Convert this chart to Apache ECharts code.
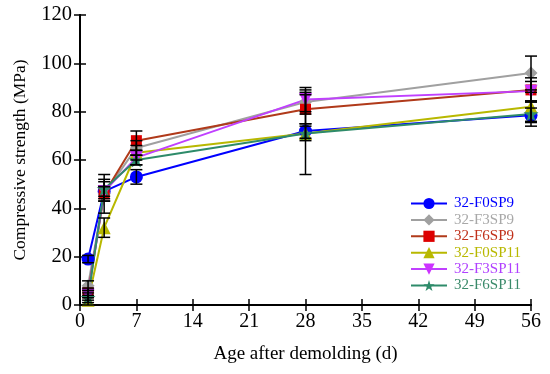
<!DOCTYPE html>
<html><head><meta charset="utf-8">
<script src="https://cdn.jsdelivr.net/npm/echarts@6/dist/echarts.min.js"></script>
<style>html,body{margin:0;padding:0;background:#fff}#c{width:550px;height:374px}</style>
</head><body><div id="c"></div>
<script>
var ages = [1, 3, 7, 28, 56];
var names = ['32-F0SP9','32-F3SP9','32-F6SP9','32-F0SP11','32-F3SP11','32-F6SP11'];
var F0SP9  = [19, 47, 53, 72, 78.5];
var F3SP9  = [8, 46, 65, 84, 96];
var F6SP9  = [5, 46, 68, 81, 89];
var F0SP11 = [2, 32, 63, 71, 82];
var F3SP11 = [4, 47, 61, 85, 88.5];
var F6SP11 = [3, 48, 60, 71, 79];
var errF0SP9  = [1.5, 2, 3, 3, 3];
var errF3SP9  = [2, 3, 3, 5, 7];
var errF6SP9  = [2, 8, 4, 6, 5];
var errF0SP11 = [2, 4, 3, 17, 6];
var errF3SP11 = [2, 4, 3, 5, 4];
var errF6SP11 = [2, 4, 2, 3, 5];
var xTicks = [0, 7, 14, 21, 28, 35, 42, 49, 56];
var yTicks = [0, 20, 40, 60, 80, 100, 120];

var values = [F0SP9, F3SP9, F6SP9, F0SP11, F3SP11, F6SP11];
var errs = [errF0SP9, errF3SP9, errF6SP9, errF0SP11, errF3SP11, errF6SP11];
var lineColors = ['#0000ff', '#a0a0a0', '#b03a1a', '#b8b800', '#c040ff', '#2e8b6a'];
var symColors  = ['#0000ff', '#a0a0a0', '#dd0000', '#b8b800', '#cc33ff', '#2e8b6a'];
var textColors = ['#0000ff', '#a8a8a8', '#c0301a', '#b8b800', '#b040ff', '#3a8a6a'];
var star = 'path://M0,-1 L0.2245,-0.309 L0.951,-0.309 L0.363,0.118 L0.588,0.809 L0,0.382 L-0.588,0.809 L-0.363,0.118 L-0.951,-0.309 L-0.2245,-0.309 Z';
var symbols = ['circle', 'diamond', 'rect', 'triangle', 'triangle', star];
var symSizes = [13, 13, 11, 13, 13, 15];
var symRot = [0, 0, 0, 0, 180, 0];

var font = '"Liberation Serif","Times New Roman",serif';
var series = [];
for (var i = 0; i < names.length; i++) {
  series.push({
    name: names[i], type: 'line',
    data: ages.map(function (a, k) { return [a, values[i][k]]; }),
    symbol: symbols[i], symbolSize: symSizes[i], symbolRotate: symRot[i],
    lineStyle: { color: lineColors[i], width: 2 },
    itemStyle: { color: symColors[i] },
    z: 3
  });
}
for (var j = 0; j < names.length; j++) {
  (function (j) {
    series.push({
      type: 'custom', name: names[j] + '-err', silent: true, z: 5,
      data: ages.map(function (a, k) { return [a, values[j][k] - errs[j][k], values[j][k] + errs[j][k]]; }),
      renderItem: function (params, api) {
        var x = api.value(0);
        var lo = api.coord([x, api.value(1)]);
        var hi = api.coord([x, api.value(2)]);
        var w = 6;
        var st = { stroke: '#000', lineWidth: 1.5 };
        return { type: 'group', children: [
          { type: 'line', shape: { x1: lo[0], y1: lo[1], x2: hi[0], y2: hi[1] }, style: st },
          { type: 'line', shape: { x1: lo[0] - w, y1: lo[1], x2: lo[0] + w, y2: lo[1] }, style: st },
          { type: 'line', shape: { x1: hi[0] - w, y1: hi[1], x2: hi[0] + w, y2: hi[1] }, style: st }
        ]};
      },
      encode: { x: 0, y: [1, 2] }
    });
  })(j);
}

var chart = echarts.init(document.getElementById('c'), null, { renderer: 'canvas' });
chart.setOption({
  animation: false,
  backgroundColor: '#fff',
  grid: { left: 80, right: 19, top: 15, bottom: 69 },
  legend: {
    orient: 'vertical', left: 405, top: 191, itemGap: 1.4,
    itemWidth: 36, itemHeight: 14,
    data: names.map(function (n, i) { return { name: n, textStyle: { color: textColors[i] } }; }),
    textStyle: { fontFamily: font, fontSize: 15, lineHeight: 14, padding: [0, 0, 0, 2] }
  },
  xAxis: [{
    type: 'value', min: 0, max: 56, interval: 7,
    name: 'Age after demolding (d)', nameLocation: 'middle', nameGap: 40,
    nameTextStyle: { fontFamily: font, fontSize: 19, color: '#000' },
    axisLine: { lineStyle: { color: '#000', width: 2 } },
    axisTick: { inside: true, length: 6, lineStyle: { color: '#000', width: 1.5 } },
    axisLabel: { fontFamily: font, fontSize: 20, color: '#000', margin: 7 },
    splitLine: { show: false }
  }, {
    type: 'value', min: 0, max: 56, interval: 7, position: 'top',
    axisLine: { show: true, lineStyle: { color: '#000', width: 2 } },
    axisTick: { inside: true, length: 6, lineStyle: { color: '#000', width: 1.5 } },
    axisLabel: { show: false }, splitLine: { show: false }
  }],
  yAxis: [{
    type: 'value', min: 0, max: 120, interval: 20,
    name: 'Compressive strength (MPa)', nameLocation: 'middle', nameGap: 51,
    nameTextStyle: { fontFamily: font, fontSize: 17.5, color: '#000' },
    axisLine: { show: true, lineStyle: { color: '#000', width: 2 } },
    axisTick: { inside: true, length: 6, lineStyle: { color: '#000', width: 1.5 } },
    axisLabel: { fontFamily: font, fontSize: 20.5, color: '#000', margin: 8 },
    splitLine: { show: false }
  }, {
    type: 'value', min: 0, max: 120, interval: 20, position: 'right',
    axisLine: { show: true, lineStyle: { color: '#000', width: 2 } },
    axisTick: { inside: true, length: 6, lineStyle: { color: '#000', width: 1.5 } },
    axisLabel: { show: false }, splitLine: { show: false }
  }],
  series: series
});
</script></body></html>
